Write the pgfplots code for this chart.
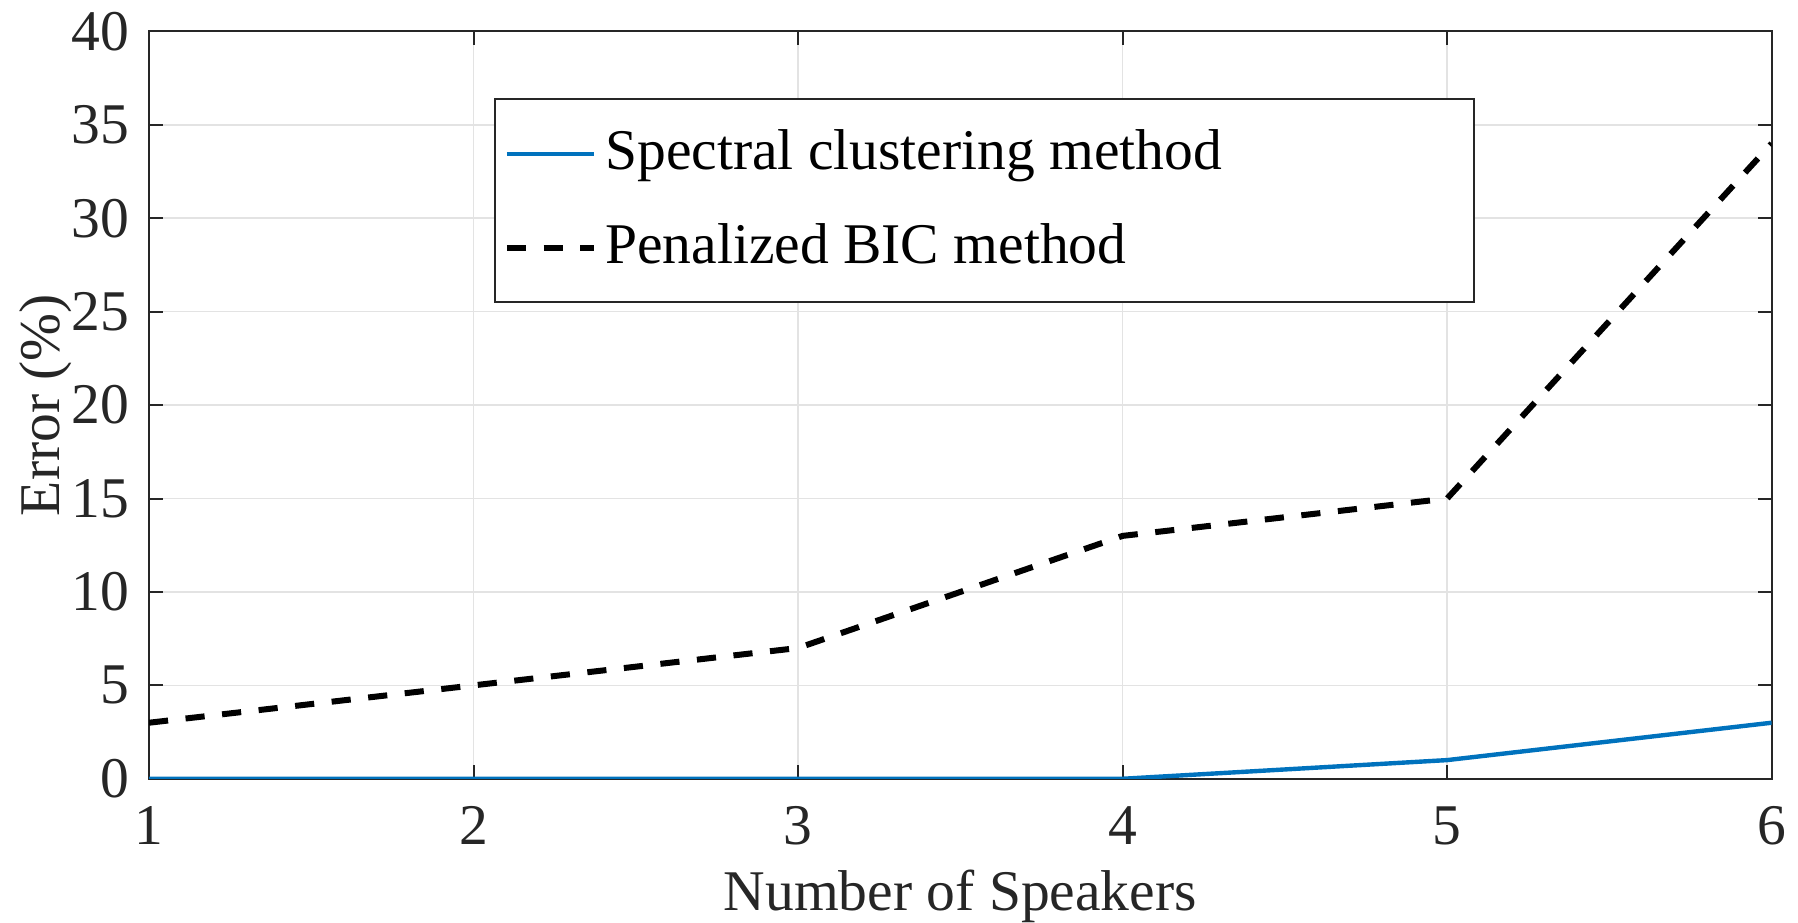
\documentclass[border=0pt]{standalone}
\usepackage{fontspec}
\setmainfont{Liberation Serif}
\usepackage{pgfplots}
\pgfplotsset{compat=1.18}
\definecolor{mblue}{rgb}{0,0.447,0.741}
\definecolor{axgray}{gray}{0.15}
\newcommand{\bigfont}{\fontsize{14.4}{17}\selectfont}
\begin{document}
\bigfont
\begin{tikzpicture}
\begin{axis}[
  scale only axis,
  width=406pt, height=187pt,
  xmin=1, xmax=6, ymin=0, ymax=40,
  xtick={1,...,6}, ytick={0,5,...,40},
  tick align=inside, tick pos=both, major tick length=3.5pt,
  axis line style={axgray, line width=0.5pt},
  tick style={axgray, line width=0.5pt},
  grid=major, grid style={gray!22, line width=0.4pt},
  xlabel={Number of Speakers}, ylabel={Error (\%)},
  ticklabel style={font=\bigfont, text=axgray},
  label style={font=\bigfont, text=axgray},
  xticklabel style={yshift=-2pt, inner xsep=3pt},
  yticklabel style={inner ysep=3pt},
  xlabel style={at={(axis description cs:0.5,-0.1765)}, anchor=base, inner sep=0pt},
  ylabel style={at={(axis description cs:-0.0554,0.5)}, anchor=base},
  /pgf/number format/assume math mode=true,
  legend cell align=left,
  legend image code/.code={\draw[#1] (0cm,0cm) -- (0.77cm,0cm);},
  legend style={
    at={(rel axis cs:0.2125,0.9104)}, anchor=north west,
    draw=axgray, line width=0.5pt, font=\bigfont,
    inner xsep=2.25pt, inner ysep=5.6pt, row sep=7.3pt,
  },
]
\addplot[mblue, line width=1.1pt] coordinates {
  (1,0) (2,0) (3,0) (4,0) (5,1) (6,3)
};
\addlegendentry{\makebox[213pt][l]{Spectral clustering method}}
\addplot[black, line width=1.5pt, dash pattern=on 4.8pt off 4.4pt] coordinates {
  (1,3) (2,5) (3,7) (4,13) (5,15) (6,34)
};
\addlegendentry{Penalized BIC method}
\end{axis}
\end{tikzpicture}
\end{document}
